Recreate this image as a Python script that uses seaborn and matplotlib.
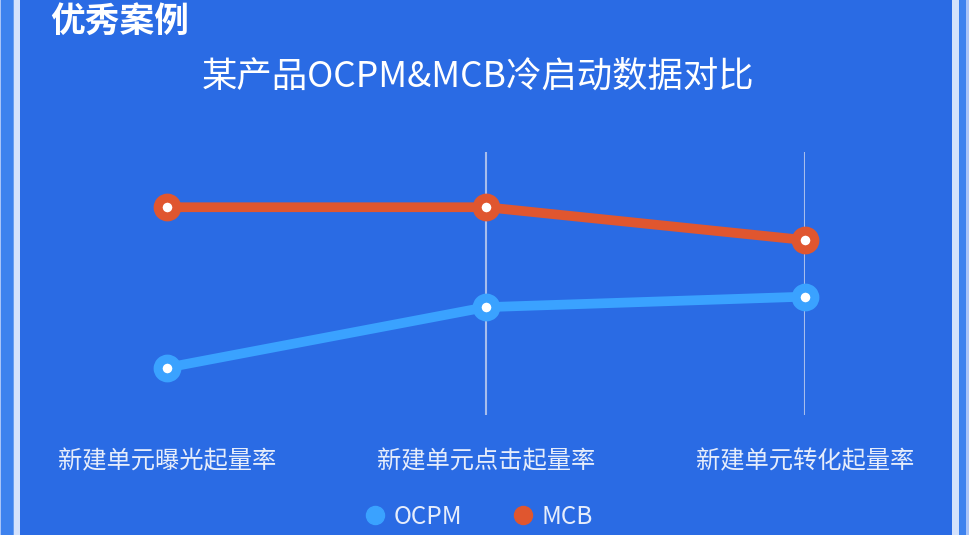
import pandas as pd
import matplotlib
matplotlib.use("Agg")
import matplotlib.pyplot as plt
from matplotlib.lines import Line2D
from matplotlib.patches import Rectangle
import seaborn as sns

# données (échelle 0-100)
categories = ["新建单元曝光起量率", "新建单元点击起量率", "新建单元转化起量率"]
ocpm = [18, 41, 45]
mcb = [79, 79, 66.5]
series_names = ["OCPM", "MCB"]

bg = "#2a6be4"
col_ocpm = "#3aa2ff"
col_mcb = "#e0562f"

sns.set_style("white")
plt.rcParams["font.family"] = ["Noto Sans CJK SC", "DejaVu Sans"]

W, H = 970, 535
fig = plt.figure(figsize=(W / 100, H / 100), dpi=100, facecolor=bg)
ax = fig.add_axes([167 / W, (H - 415) / H, (805 - 167) / W, (415 - 152) / H])
ax.set_facecolor(bg)

df = pd.DataFrame({"cat": categories * 2,
                   "value": ocpm + mcb,
                   "serie": [series_names[0]] * 3 + [series_names[1]] * 3})

for name, color in zip(series_names, [col_ocpm, col_mcb]):
    sub = df[df["serie"] == name]
    sns.lineplot(data=sub, x="cat", y="value", ax=ax, color=color, linewidth=7,
                 marker="o", markersize=13.5, markeredgewidth=6.5,
                 markeredgecolor=color, markerfacecolor="white",
                 legend=False, clip_on=False, zorder=3)

ax.set_xlim(0, 2)
ax.set_ylim(0, 100)
ax.set_xlabel("")
ax.set_ylabel("")
ax.set_yticks([])
for s in ax.spines.values():
    s.set_visible(False)

# lignes verticales sur les catégories (la première est masquée)
ax.xaxis.grid(True, color="#a7bdec", linewidth=1.5)
ax.xaxis.get_gridlines()[0].set_visible(False)
ax.tick_params(axis="x", length=0, pad=24, labelsize=17.5, labelcolor="#e6edfb")

# titre et bandeau
fig.text(478 / W, 1 - 77 / H, "某产品OCPM&MCB冷启动数据对比", ha="center", va="center",
         fontsize=25.5, color="white")
fig.text(50 / W, 1 - 21 / H, "优秀案例", ha="left", va="center",
         fontsize=25, color="white", fontweight="bold", style="italic")

# légende
handles = [Line2D([], [], linestyle="none", marker="o", markersize=13,
                  markerfacecolor=c, markeredgecolor=c) for c in [col_ocpm, col_mcb]]
leg = fig.legend(handles, series_names, loc="center", bbox_to_anchor=(478 / W, 18 / H),
                 ncol=2, frameon=False, fontsize=17.5, handletextpad=0.25,
                 columnspacing=2.0, handlelength=1.0)
for t in leg.get_texts():
    t.set_color("#e6edfb")

# bordures gauche / droite
bords = [(0, 1, "#a8c4f8"), (1, 13, "#3d82ee"), (13, 14, "#6a9ff0"), (14, 20, "#d4e2fc"),
         (952, 959, "#d4e2fc"), (959, 966, "#3d82ee"), (966, 970, "#a8c4f8")]
for x0, x1, c in bords:
    fig.patches.append(Rectangle((x0 / W, 0), (x1 - x0) / W, 1, transform=fig.transFigure,
                                 facecolor=c, edgecolor="none", zorder=0))

fig.savefig("out.png", dpi=100, facecolor=bg)
